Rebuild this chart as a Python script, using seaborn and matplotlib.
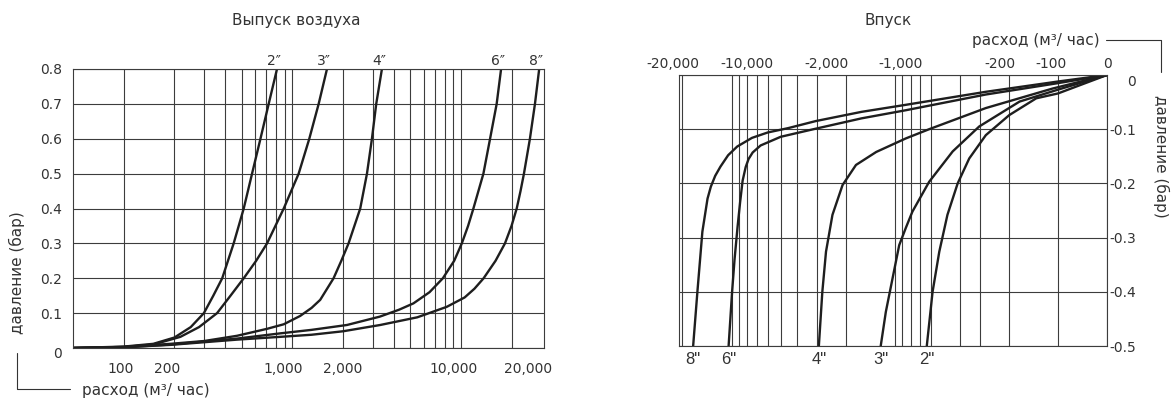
import numpy as np
import pandas as pd
import matplotlib
matplotlib.use("Agg")
import matplotlib.pyplot as plt
from matplotlib.lines import Line2D
from matplotlib.transforms import ScaledTranslation
import seaborn as sns

sizes = ['2"', '3"', '4"', '6"', '8"']

# Выпуск воздуха: расход (м3/час) и давление (бар)
out_flow_2 = [0, 100, 150, 200, 250, 299, 340, 384, 449, 515, 577, 647, 724, 811]
out_p_2 = [0, 0.004, 0.012, 0.03, 0.06, 0.1, 0.15, 0.2, 0.3, 0.4, 0.5, 0.6, 0.7, 0.8]
out_flow_3 = [0, 100, 150, 217, 280, 358, 430, 515, 610, 708, 889, 1090, 1260, 1432, 1604]
out_p_3 = [0, 0.003, 0.01, 0.032, 0.06, 0.1, 0.15, 0.2, 0.25, 0.3, 0.4, 0.5, 0.6, 0.7, 0.8]
out_flow_4 = [0, 100, 190, 300, 470, 708, 889, 1113, 1300, 1462, 1755, 1950, 2153, 2525, 2768, 2962, 3141, 3395]
out_p_4 = [0, 0.003, 0.012, 0.02, 0.035, 0.055, 0.068, 0.092, 0.115, 0.138, 0.2, 0.25, 0.3, 0.4, 0.5, 0.6, 0.7, 0.8]
out_flow_6 = [0, 100, 190, 470, 849, 1300, 2108, 3300, 4300, 5220, 6500, 7800, 9100, 10100, 11000, 11830, 13560, 14850, 16250, 17260]
out_p_6 = [0, 0.002, 0.01, 0.027, 0.042, 0.052, 0.066, 0.09, 0.11, 0.128, 0.16, 0.2, 0.25, 0.3, 0.35, 0.4, 0.5, 0.6, 0.7, 0.8]
out_flow_8 = [0, 100, 190, 470, 849, 1300, 2000, 3318, 5500, 8220, 10500, 12000, 13600, 16000, 18200, 19900, 21360, 22500, 23580, 25580, 27400, 29030]
out_p_8 = [0, 0.002, 0.009, 0.024, 0.032, 0.038, 0.048, 0.066, 0.088, 0.118, 0.145, 0.17, 0.2, 0.25, 0.3, 0.35, 0.4, 0.45, 0.5, 0.6, 0.7, 0.8]

# Впуск
in_flow_2 = [0, -100, -136, -199, -277, -350, -412, -476, -534, -587, -637]
in_p_2 = [0, -0.034, -0.043, -0.074, -0.111, -0.154, -0.2, -0.258, -0.326, -0.4, -0.5]
in_flow_3 = [0, -100, -172, -304, -442, -616, -780, -856, -940, -1135, -1220]
in_p_3 = [0, -0.027, -0.049, -0.095, -0.141, -0.197, -0.252, -0.282, -0.314, -0.437, -0.5]
in_flow_4 = [0, -108, -277, -616, -856, -1300, -1730, -2090, -2410, -2640, -2780, -2920]
in_p_4 = [0, -0.025, -0.061, -0.1, -0.117, -0.142, -0.166, -0.203, -0.258, -0.326, -0.4, -0.5]
in_flow_6 = [0, -100, -277, -856, -1600, -3150, -5000, -6640, -7430, -7870, -8200, -8560, -8870, -9190, -9590, -9930, -10430]
in_p_6 = [0, -0.015, -0.036, -0.065, -0.08, -0.1, -0.114, -0.13, -0.143, -0.155, -0.17, -0.195, -0.235, -0.28, -0.34, -0.4, -0.5]
in_flow_8 = [0, -100, -277, -856, -1600, -3050, -4500, -6000, -7500, -9240, -10500, -11700, -12600, -13400, -14040, -15100, -16200, -17200]
in_p_8 = [0, -0.012, -0.031, -0.055, -0.068, -0.085, -0.098, -0.106, -0.116, -0.132, -0.148, -0.169, -0.186, -0.206, -0.228, -0.289, -0.4, -0.5]

out_ticks = [100, 200, 1000, 2000, 10000, 20000]
out_grid = [100, 200, 300, 400, 500, 600, 700, 800, 900, 1000,
            2000, 3000, 4000, 5000, 6000, 7000, 8000, 9000, 10000, 20000]
out_yticks = [0, 0.1, 0.2, 0.3, 0.4, 0.5, 0.6, 0.7, 0.8]
out_ylabels = ["0", "0.1", "0.2", "0.3", "0.4", "0.5", "0.6", "0.7", "0.8"]

in_ticks = [-20000, -10000, -2000, -1000, -200, -100, 0]
in_grid = [-100, -200, -300, -400, -600, -700, -800, -900, -1000,
           -2000, -3000, -4000, -5000, -6000, -7000, -8000, -9000, -10000]
in_yticks = [0, -0.1, -0.2, -0.3, -0.4, -0.5]
in_ylabels = ["0", "-0.1", "-0.2", "-0.3", "-0.4", "-0.5"]


def long_table(flows, press):
    frames = []
    for s, f, p in zip(sizes, flows, press):
        frames.append(pd.DataFrame({"flow": f, "p": p, "size": s}))
    return pd.concat(frames, ignore_index=True)


df_out = long_table([out_flow_2, out_flow_3, out_flow_4, out_flow_6, out_flow_8],
                    [out_p_2, out_p_3, out_p_4, out_p_6, out_p_8])
df_in = long_table([in_flow_2, in_flow_3, in_flow_4, in_flow_6, in_flow_8],
                   [in_p_2, in_p_3, in_p_4, in_p_6, in_p_8])

sns.set_style("white")
plt.rcParams["font.family"] = ["DejaVu Sans"]
plt.rcParams["axes.unicode_minus"] = False

LINE = "#1e1e1e"
GRID = "#3c3c3c"
TXT = "#333333"

W, H = 1172, 401
fig = plt.figure(figsize=(W / 100, H / 100), dpi=100)


def box(l, t, r, b):
    return [l / W, 1 - b / H, (r - l) / W, (b - t) / H]


def fx(px):
    return px / W


def fy(py):
    return 1 - py / H


def nudge(labels, dxs, dy=None):
    # shift hand-placed tick labels a few pixels, as in the source drawing
    for i, (lab, dx) in enumerate(zip(labels, dxs)):
        ddy = 0 if dy is None else dy[i]
        lab.set_transform(lab.get_transform() +
                          ScaledTranslation(dx / 100, -ddy / 100, fig.dpi_scale_trans))


ax1 = fig.add_axes(box(73, 69, 544, 348))
ax2 = fig.add_axes(box(679, 75, 1107, 346))

for ax, df in [(ax1, df_out), (ax2, df_in)]:
    sns.lineplot(data=df, x="flow", y="p", units="size", estimator=None,
                 sort=False, color=LINE, linewidth=1.7, ax=ax,
                 solid_joinstyle="round", solid_capstyle="round")
    ax.set_xscale("symlog", linthresh=100, linscale=0.27)
    ax.set_xlabel("")
    ax.set_ylabel("")
    ax.grid(which="both", color=GRID, linewidth=0.8)
    ax.set_axisbelow(True)
    for sp in ax.spines.values():
        sp.set_color(GRID)
        sp.set_linewidth(0.8)
    ax.tick_params(which="both", length=0, labelsize=10, labelcolor=TXT)

# выпуск
ax1.set_xlim(0, 31000)
ax1.set_ylim(0, 0.8)
ax1.set_xticks(out_ticks, [f"{v:,}" for v in out_ticks])
ax1.set_xticks(out_grid, minor=True)
ax1.set_yticks(out_yticks, out_ylabels)
ax1.tick_params(axis="x", pad=10)
ax1.tick_params(axis="y", pad=8)
for s, f in zip(sizes, [out_flow_2, out_flow_3, out_flow_4, out_flow_6, out_flow_8]):
    ax1.annotate(s.replace('"', "\u2033"), xy=(f[-1], 0.8), xytext=(-2, 1),
                 textcoords="offset points", ha="center", va="bottom",
                 fontsize=10, color=TXT)

# впуск
ax2.set_xlim(-21000, 0)
ax2.set_ylim(-0.5, 0)
ax2.xaxis.tick_top()
ax2.yaxis.tick_right()
ax2.set_xticks(in_ticks, [f"{v:,}" for v in in_ticks])
ax2.set_xticks(in_grid, minor=True)
ax2.set_yticks(in_yticks, in_ylabels)
ax2.tick_params(axis="x", pad=3)
ax2.tick_params(axis="y", pad=21)
for lab in ax2.get_yticklabels():
    lab.set_horizontalalignment("right")
for s, f in zip(sizes, [in_flow_2, in_flow_3, in_flow_4, in_flow_6, in_flow_8]):
    ax2.annotate(s, xy=(f[-1], -0.5), xytext=(0, -10),
                 textcoords="offset points", ha="center", va="center",
                 fontsize=12, color=TXT, family=["Liberation Sans"])

nudge(ax1.get_xticklabels(), [-3, -7, -9, 0, -8, 16])
nudge(ax1.get_yticklabels(), [0] * 9, [4, 0, 0, 0, 0, 0, 0, 0, 0])
nudge(ax2.get_xticklabels(), [-10, 15, -19, 6, -9, -7, 0])
nudge(ax2.get_yticklabels(), [0] * 6, [5, 0, 0, 0, 0, 0])

# titles and axis captions
fig.text(fx(296), fy(21), "Выпуск воздуха", ha="center", va="center", fontsize=11, color=TXT)
fig.text(fx(888), fy(21), "Впуск", ha="center", va="center", fontsize=11, color=TXT)

fig.text(fx(17), fy(273), "давление (бар)", rotation=90, ha="center", va="center",
         fontsize=11, color=TXT)
fig.text(fx(82), fy(391), "расход (м³/ час)", ha="left", va="center", fontsize=11, color=TXT)
fig.add_artist(Line2D([fx(17), fx(17), fx(70)], [fy(353), fy(389), fy(389)],
                      color=TXT, linewidth=0.8))

fig.text(fx(1100), fy(40), "расход (м³/ час)", ha="right", va="center", fontsize=11, color=TXT)
fig.add_artist(Line2D([fx(1106), fx(1161), fx(1161)], [fy(40), fy(40), fy(72)],
                      color=TXT, linewidth=0.8))
fig.text(fx(1161), fy(156), "давление (бар)", rotation=270, ha="center", va="center",
         fontsize=11, color=TXT)

fig.savefig("out.png", dpi=100)
